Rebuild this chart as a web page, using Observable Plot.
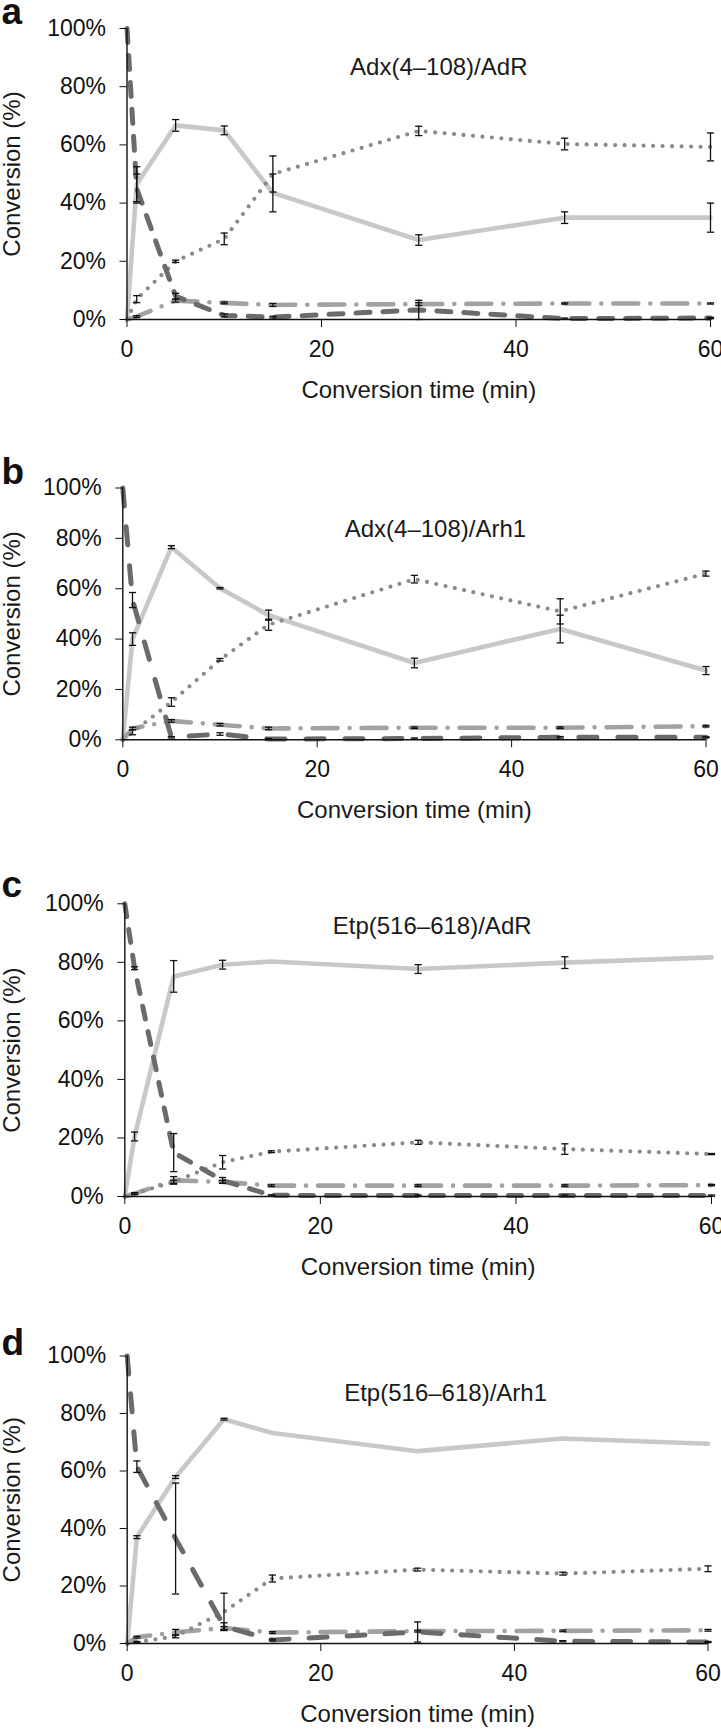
<!DOCTYPE html>
<html>
<head>
<meta charset="utf-8">
<script src="https://cdn.jsdelivr.net/npm/d3@7"></script>
<script src="https://cdn.jsdelivr.net/npm/@observablehq/plot@0.6"></script>
<style>
  body { margin: 0; background: #fff; }
  #chart svg { display: block; }
</style>
</head>
<body>
<div id="chart"></div>
<script>
// ---- data ----
const times = [0, 1, 5, 10, 15, 30, 45, 60];
const panelLabels = ["a", "b", "c", "d"];
const panelTitles = ["Adx(4–108)/AdR", "Adx(4–108)/Arh1", "Etp(516–618)/AdR", "Etp(516–618)/Arh1"];
const yTicks = [0, 20, 40, 60, 80, 100];
const xTicks = [0, 20, 40, 60];
const xLabel = "Conversion time (min)";
const yLabel = "Conversion (%)";

// panel a
const aSolid      = [0, 46.5, 66.7, 65, 43.5, 27.3, 35, 35];
const aSolidErr   = [0, 6, 2, 1.5, 6.5, 1.8, 2, 5];
const aDotted     = [0, 7, 20, 27.7, 50, 64.8, 60.3, 59.3];
const aDottedErr  = [0, 1.2, 0.4, 2, 6.2, 1.6, 2, 4.8];
const aDashed     = [100, 45, 8, 1.4, 0.8, 3.3, 0.3, 0.5];
const aDashedErr  = [0, 5, 1, 0.5, 0.3, 3.3, 0.2, 0.2];
const aDashDot    = [0, 1, 6.5, 5.7, 5, 5.3, 5.5, 5.5];
const aDashDotErr = [0, 0.3, 0.5, 0.3, 0.5, 0.5, 0.2, 0.2];

// panel b
const bSolid      = [0, 40, 76.5, 60.2, 49.5, 30.5, 44, 27.5];
const bSolidErr   = [0, 2.5, 0.6, 0.3, 2, 1.9, 5.5, 1.6];
const bDotted     = [0, 3, 15, 31.8, 45.7, 63.8, 51, 66];
const bDottedErr  = [0, 1, 1.7, 0.5, 2.2, 1.5, 5, 1];
const bDashed     = [100, 55.5, 1, 2.3, 0.3, 0.5, 1, 1];
const bDashedErr  = [0, 3, 0.3, 0.5, 0.2, 0.2, 0.3, 0.2];
const bDashDot    = [0, 4.5, 7.5, 6, 4.5, 4.8, 4.8, 5.4];
const bDashDotErr = [0, 0.5, 0.5, 0.5, 0.5, 0.3, 0.3, 0.3];

// panel c
const cSolid      = [0, 20.5, 75.2, 79.2, 80.3, 77.7, 79.9, 81.7];
const cSolidErr   = [0, 1.5, 5.4, 1.5, 0, 1.5, 2, 0];
const cDotted     = [0, 1, 5, 11.7, 15.3, 18.5, 16.2, 14.5];
const cDottedErr  = [0, 0.3, 0.5, 2.3, 0.3, 0.7, 1.8, 0.2];
const cDashed     = [100, 78, 15, 5.5, 0.4, 0.3, 0.3, 0.3];
const cDashedErr  = [0, 0.5, 6.5, 1, 0.2, 0.2, 0.2, 0.2];
const cDashDot    = [0, 1, 5.5, 5, 3.7, 3.7, 3.7, 3.9];
const cDashDotErr = [0, 0.3, 1.3, 0.5, 0.3, 0.3, 0.3, 0.2];

// panel d
const dSolid      = [0, 37, 57.9, 78, 73.2, 66.9, 71.3, 69.5];
const dSolidErr   = [0, 0.5, 0.5, 0.3, 0, 0, 0, 0];
const dDotted     = [0, 0.5, 2.5, 11, 22.6, 25.7, 24.3, 26];
const dDottedErr  = [0, 0.2, 0.5, 6.5, 1.2, 0.5, 0.5, 1];
const dDashed     = [100, 61.5, 36.5, 6, 1.2, 4, 0.8, 0.5];
const dDashedErr  = [0, 2, 19.3, 1.2, 0.3, 3.5, 0.2, 0.2];
const dDashDot    = [0, 2.2, 3.9, 5.4, 3.8, 4.3, 4.4, 4.6];
const dDashDotErr = [0, 0.3, 1, 0.5, 0.3, 0.3, 0.3, 0.3];

// ---- styling / layout ----
const seriesStyles = {
  solid:   {stroke: "#c8c8c8", strokeWidth: 4.6, strokeLinecap: "round", strokeLinejoin: "round"},
  dashdot: {stroke: "#a2a2a2", strokeWidth: 4.6, strokeLinecap: "round", strokeDasharray: "25,12,0,12"},
  dotted:  {stroke: "#8a8a8a", strokeWidth: 4.2, strokeLinecap: "round", strokeDasharray: "0,9.5"},
  dashed:  {stroke: "#6b6b6b", strokeWidth: 5, strokeLinecap: "round", strokeLinejoin: "round"}
};
const dashedPatterns = ["14,13", "18,21", "13,13", "18,20"];

const layouts = [
  {height: 420, top: 28,   bottom: 101,   left: 126.5, right: 11,   labelDy: -5,   titleDx: 20, titleDy: 39},
  {height: 420, top: 67.5, bottom: 100.7, left: 122.3, right: 15.5, labelDy: -4.5, titleDx: 21, titleDy: 41},
  {height: 450, top: 63.3, bottom: 94,    left: 124.3, right: 10,   labelDy: -6.5, titleDx: 14, titleDy: 23},
  {height: 440, top: 65.5, bottom: 87,    left: 126.7, right: 13.5, labelDy: -1,   titleDx: 28, titleDy: 37}
];

const panelSeries = [
  {solid: [aSolid, aSolidErr], dashdot: [aDashDot, aDashDotErr], dotted: [aDotted, aDottedErr], dashed: [aDashed, aDashedErr]},
  {solid: [bSolid, bSolidErr], dashdot: [bDashDot, bDashDotErr], dotted: [bDotted, bDottedErr], dashed: [bDashed, bDashedErr]},
  {solid: [cSolid, cSolidErr], dashdot: [cDashDot, cDashDotErr], dotted: [cDotted, cDottedErr], dashed: [cDashed, cDashedErr]},
  {solid: [dSolid, dSolidErr], dashdot: [dDashDot, dDashDotErr], dotted: [dDotted, dDottedErr], dashed: [dDashed, dDashedErr]}
];

const capSymbol = {
  draw(ctx, size) {
    const h = Math.sqrt(size / Math.PI);
    ctx.moveTo(-h, 0);
    ctx.lineTo(h, 0);
  }
};

const FONT = "'Liberation Sans', Arial, Helvetica, sans-serif";
const container = document.getElementById("chart");

panelSeries.forEach((series, p) => {
  const L = layouts[p];
  const marks = [];
  const errRows = [];
  for (const key of ["solid", "dashdot", "dotted", "dashed"]) {
    const [vals, errs] = series[key];
    const rows = times.map((t, i) => ({t, v: vals[i], e: errs[i]}));
    const style = {...seriesStyles[key]};
    if (key === "dashed") style.strokeDasharray = dashedPatterns[p];
    marks.push(Plot.line(rows, {x: "t", y: "v", ...style}));
    rows.forEach(r => { if (r.e > 0) errRows.push(r); });
  }
  marks.push(
    Plot.ruleX(errRows, {x: "t", y1: d => d.v - d.e, y2: d => d.v + d.e, stroke: "#111", strokeWidth: 1.3}),
    Plot.dot(errRows, {x: "t", y: d => d.v + d.e, r: 3.6, symbol: capSymbol, stroke: "#111", strokeWidth: 1.3, fill: "none"}),
    Plot.dot(errRows, {x: "t", y: d => d.v - d.e, r: 3.6, symbol: capSymbol, stroke: "#111", strokeWidth: 1.3, fill: "none"}),
    Plot.ruleX([0], {stroke: "#111", strokeWidth: 1.4}),
    Plot.ruleY([0], {stroke: "#111", strokeWidth: 1.4}),
    Plot.axisY({ticks: yTicks, tickFormat: d => d + "%", tickSize: 7, tickPadding: 14, label: null, fontSize: 23}),
    Plot.axisX({ticks: xTicks, tickFormat: d => String(d), tickSize: 8, tickPadding: 13, label: null, fontSize: 23}),
    Plot.text([xLabel], {frameAnchor: "bottom", dy: 71, lineAnchor: "middle", fontSize: 24, fill: "#1a1a1a"}),
    Plot.text([yLabel], {frameAnchor: "left", dx: 12 - L.left, rotate: -90, textAnchor: "middle", lineAnchor: "middle", fontSize: 24, fill: "#1a1a1a"}),
    Plot.text([panelTitles[p]], {frameAnchor: "top", dx: L.titleDx, dy: L.titleDy, lineAnchor: "middle", fontSize: 24, fill: "#1a1a1a"}),
    Plot.text([panelLabels[p]], {frameAnchor: "top-left", dx: 1 - L.left, dy: L.labelDy, textAnchor: "start", lineAnchor: "bottom", fontSize: 37, fontWeight: "bold", fill: "#111"})
  );
  const chart = Plot.plot({
    width: 721,
    height: L.height,
    marginTop: L.top,
    marginBottom: L.bottom,
    marginLeft: L.left,
    marginRight: L.right,
    x: {domain: [0, 60]},
    y: {domain: [0, 100]},
    style: {fontFamily: FONT, fontSize: "23px", color: "#111", background: "#fff", overflow: "visible"},
    marks
  });
  container.appendChild(chart);
});
</script>
</body>
</html>
